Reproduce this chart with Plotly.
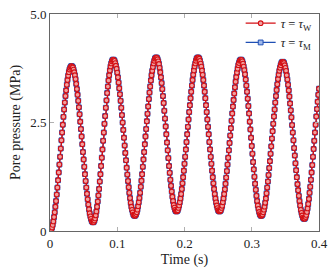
import plotly.graph_objects as go

# time grid (s), uniform sampling every 0.001 s from 0 to 0.4
time_s = [round(i * 0.001, 3) for i in range(401)]

# pore pressure (MPa), tau = tau_W
pressure_w = [
    # 0.000 - 0.032
    0.00, 0.01, 0.04, 0.08, 0.14, 0.22, 0.32, 0.43, 0.56, 0.69, 0.84, 1.00, 1.17, 1.35, 1.53, 1.71,
    1.90, 2.09, 2.27, 2.45, 2.63, 2.80, 2.96, 3.11, 3.24, 3.37, 3.48, 3.58, 3.66, 3.72, 3.76, 3.79, 3.80,
    # 0.033 - 0.064
    3.79, 3.77, 3.72, 3.66, 3.59, 3.50, 3.39, 3.27, 3.14, 3.00, 2.85, 2.69, 2.52, 2.35, 2.18, 2.00,
    1.82, 1.65, 1.48, 1.31, 1.15, 1.00, 0.86, 0.73, 0.61, 0.50, 0.41, 0.34, 0.28, 0.23, 0.21, 0.20,
    # 0.065 - 0.094
    0.21, 0.24, 0.29, 0.36, 0.45, 0.56, 0.68, 0.82, 0.97, 1.14, 1.31, 1.50, 1.69, 1.88, 2.08,
    2.27, 2.47, 2.65, 2.84, 3.01, 3.18, 3.33, 3.47, 3.59, 3.70, 3.79, 3.86, 3.91, 3.94, 3.95,
    # 0.095 - 0.126
    3.94, 3.92, 3.87, 3.81, 3.74, 3.65, 3.54, 3.42, 3.29, 3.15, 3.00, 2.84, 2.67, 2.50, 2.33, 2.15,
    1.97, 1.80, 1.63, 1.46, 1.30, 1.15, 1.01, 0.88, 0.76, 0.65, 0.56, 0.49, 0.43, 0.38, 0.36, 0.35,
    # 0.127 - 0.158
    0.36, 0.39, 0.43, 0.49, 0.57, 0.66, 0.76, 0.88, 1.02, 1.16, 1.31, 1.48, 1.65, 1.82, 2.00, 2.18,
    2.35, 2.53, 2.70, 2.87, 3.04, 3.19, 3.33, 3.47, 3.59, 3.69, 3.78, 3.86, 3.92, 3.97, 3.99, 4.00,
    # 0.159 - 0.188
    3.99, 3.96, 3.91, 3.85, 3.76, 3.66, 3.54, 3.41, 3.27, 3.11, 2.95, 2.77, 2.59, 2.41, 2.23,
    2.04, 1.86, 1.68, 1.50, 1.34, 1.18, 1.04, 0.91, 0.79, 0.69, 0.60, 0.54, 0.49, 0.46, 0.45,
    # 0.189 - 0.220
    0.46, 0.48, 0.53, 0.59, 0.66, 0.75, 0.85, 0.97, 1.10, 1.24, 1.39, 1.55, 1.71, 1.88, 2.05, 2.23,
    2.40, 2.57, 2.74, 2.90, 3.06, 3.21, 3.35, 3.48, 3.60, 3.70, 3.79, 3.86, 3.92, 3.97, 3.99, 4.00,
    # 0.221 - 0.252
    3.99, 3.97, 3.92, 3.86, 3.79, 3.70, 3.60, 3.48, 3.35, 3.21, 3.06, 2.90, 2.74, 2.57, 2.40, 2.23,
    2.05, 1.88, 1.71, 1.55, 1.39, 1.24, 1.10, 0.97, 0.85, 0.75, 0.66, 0.59, 0.53, 0.48, 0.46, 0.45,
    # 0.253 - 0.284
    0.46, 0.48, 0.53, 0.58, 0.66, 0.75, 0.85, 0.96, 1.09, 1.23, 1.38, 1.53, 1.69, 1.86, 2.03, 2.20,
    2.37, 2.54, 2.71, 2.87, 3.02, 3.17, 3.31, 3.44, 3.55, 3.65, 3.74, 3.82, 3.87, 3.92, 3.94, 3.95,
    # 0.285 - 0.314
    3.94, 3.91, 3.86, 3.79, 3.71, 3.61, 3.49, 3.35, 3.21, 3.05, 2.88, 2.71, 2.52, 2.34, 2.15,
    1.96, 1.78, 1.59, 1.42, 1.25, 1.09, 0.95, 0.81, 0.69, 0.59, 0.51, 0.44, 0.39, 0.36, 0.35,
    # 0.315 - 0.346
    0.36, 0.38, 0.43, 0.49, 0.56, 0.65, 0.75, 0.87, 1.00, 1.14, 1.29, 1.45, 1.61, 1.78, 1.95, 2.13,
    2.30, 2.47, 2.64, 2.80, 2.96, 3.11, 3.25, 3.38, 3.50, 3.60, 3.69, 3.76, 3.82, 3.87, 3.89, 3.90,
    # 0.347 - 0.378
    3.89, 3.87, 3.82, 3.76, 3.69, 3.59, 3.49, 3.37, 3.24, 3.10, 2.94, 2.78, 2.62, 2.44, 2.27, 2.09,
    1.91, 1.74, 1.56, 1.40, 1.24, 1.08, 0.94, 0.81, 0.69, 0.59, 0.49, 0.42, 0.36, 0.31, 0.29, 0.28,
    # 0.379 - 0.400
    0.29, 0.32, 0.37, 0.44, 0.52, 0.62, 0.74, 0.88, 1.02, 1.18, 1.35, 1.52, 1.71, 1.89, 2.08,
    2.27, 2.45, 2.64, 2.81, 2.98, 3.14, 3.28,
]

# tau = tau_M coincides with tau_W at this scale
pressure_m = list(pressure_w)

x_ticks = [0, 0.1, 0.2, 0.3, 0.4]
x_tick_labels = ["0", "0.1", "0.2", "0.3", "0.4"]
y_ticks = [0, 2.5, 5.0]
y_tick_labels = ["0", "2.5", "5.0"]

FONT = "Liberation Serif"
RED = "#d40f14"
BLUE = "#1f4fb4"

fig = go.Figure()
fig.add_trace(go.Scatter(
    x=time_s, y=pressure_m, mode="lines+markers",
    name="<i>τ</i> = <i>τ</i><sub>M</sub>", legendrank=2,
    line=dict(color=BLUE, width=1.3),
    marker=dict(symbol="square", size=4.8, color="rgba(160,185,235,1)",
                line=dict(color=BLUE, width=1.0)),
))
fig.add_trace(go.Scatter(
    x=time_s, y=pressure_w, mode="lines+markers",
    name="<i>τ</i> = <i>τ</i><sub>W</sub>", legendrank=1,
    line=dict(color=RED, width=1.3),
    marker=dict(symbol="circle", size=4.6, color="rgba(240,160,160,1)",
                line=dict(color=RED, width=1.1)),
))

axis_common = dict(
    showgrid=False, zeroline=False, showline=True, linecolor="#666666", linewidth=1,
    mirror="ticks", ticks="inside", ticklen=4, tickcolor="#b0b0b0", tickwidth=1,
    tickfont=dict(family=FONT, size=13, color="#222222"), automargin=False,
)

fig.update_layout(
    width=332, height=271,
    margin=dict(l=50, r=13, t=9, b=40),
    paper_bgcolor="white", plot_bgcolor="white",
    font=dict(family=FONT, size=13, color="#222222"),
    showlegend=True,
    legend=dict(x=0.995, y=1.025, xanchor="right", yanchor="top",
                bgcolor="rgba(255,255,255,0)", borderwidth=0,
                font=dict(family=FONT, size=12.5), tracegroupgap=0,
                itemwidth=30),
    xaxis=dict(range=[0, 0.4], tickvals=x_ticks, ticktext=x_tick_labels,
               title=dict(text="Time (s)", standoff=4, font=dict(family=FONT, size=14)),
               **axis_common),
    yaxis=dict(range=[0, 5.0], tickvals=y_ticks, ticktext=y_tick_labels,
               title=dict(text="Pore pressure (MPa)", standoff=6, font=dict(family=FONT, size=14)),
               **axis_common),
)

fig.write_html("out.html", config={"displayModeBar": False},
               post_script="document.body.style.margin='0';document.body.style.padding='0';")
